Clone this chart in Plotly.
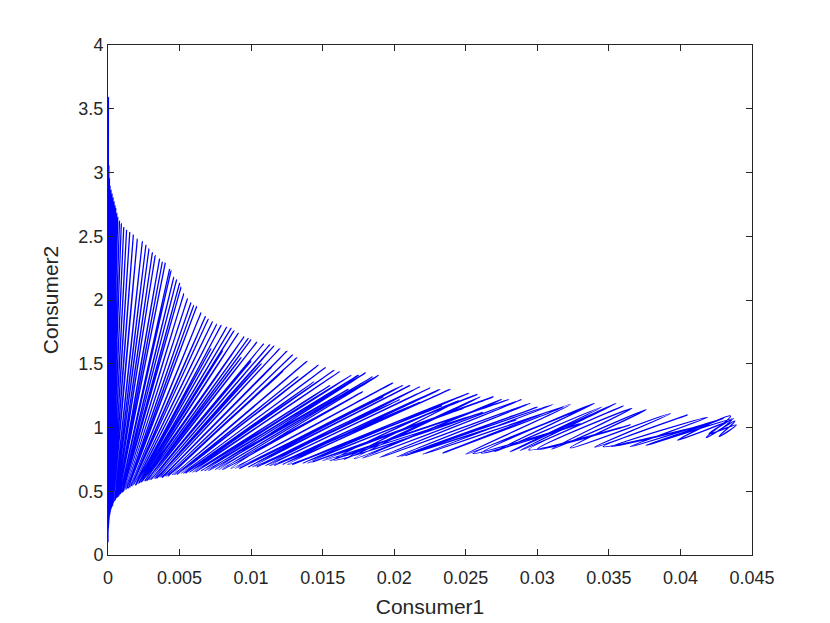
import plotly.graph_objects as go

# Loop turning points, in time order:
# each loop rises from a trough (low point) to a peak (high point).
trough_x = [0.00000, 0.00001, 0.00002, 0.00003, 0.00004, 0.00005, 0.00006, 0.00007, 0.00008, 0.00010,
            0.00012, 0.00014, 0.00016, 0.00018, 0.00021, 0.00024, 0.00028, 0.00032, 0.00036, 0.00040,
            0.00045, 0.00050, 0.00055, 0.00060, 0.00065, 0.00070, 0.00075, 0.00080, 0.00085, 0.00090,
            0.00095, 0.00100, 0.00105, 0.00110, 0.00118, 0.00125, 0.00132, 0.00140, 0.00148, 0.00155,
            0.00162, 0.00170, 0.00180, 0.00190,
            0.00195,
            0.00200, 0.00210, 0.00215,
            0.00220, 0.00230, 0.00235,
            0.00240, 0.00255, 0.00262,
            0.00270, 0.00285, 0.00292,
            0.00300, 0.00320, 0.00330,
            0.00340, 0.00360, 0.00370,
            0.00380, 0.00400, 0.00410,
            0.00420, 0.00450, 0.00465,
            0.00480, 0.00510, 0.00525,
            0.00540, 0.00570, 0.00590,
            0.00610, 0.00650, 0.00675,
            0.00700, 0.00750, 0.00775,
            0.00800, 0.00860, 0.00890,
            0.00920, 0.00980, 0.01010,
            0.01040, 0.01100, 0.01130,
            0.01160, 0.01220, 0.01255,
            0.01290, 0.01360, 0.01395,
            0.01430, 0.01500, 0.01550,
            0.0158, 0.0165, 0.0172, 0.0178, 0.0190, 0.0202,
            0.0205,
            0.0208, 0.0220, 0.0234, 0.0250,
            0.0255,
            0.0261, 0.0270, 0.0281, 0.0288,
            0.0294,
            0.0300, 0.0310, 0.0323, 0.0340,
            0.0346,
            0.0352, 0.0365, 0.0376, 0.0398, 0.0418, 0.0427, 0.0420]
trough_y = [0.10, 0.19, 0.21, 0.22, 0.24, 0.25, 0.27, 0.28, 0.29, 0.31,
            0.32, 0.33, 0.34, 0.35, 0.36, 0.37, 0.38, 0.39, 0.40, 0.41,
            0.42, 0.43, 0.44, 0.45, 0.45, 0.46, 0.47, 0.47, 0.48, 0.48,
            0.49, 0.49, 0.50, 0.50, 0.51, 0.51, 0.52, 0.52, 0.53, 0.53,
            0.54, 0.54, 0.55, 0.55,
            0.55,
            0.56, 0.56, 0.56,
            0.57, 0.57, 0.57,
            0.58, 0.58, 0.58,
            0.58, 0.59, 0.59,
            0.59, 0.60, 0.60,
            0.60, 0.61, 0.61,
            0.61, 0.62, 0.62,
            0.62, 0.63, 0.63,
            0.63, 0.64, 0.64,
            0.64, 0.65, 0.65,
            0.65, 0.66, 0.66,
            0.66, 0.67, 0.67,
            0.67, 0.68, 0.68,
            0.68, 0.69, 0.69,
            0.69, 0.70, 0.70,
            0.70, 0.71, 0.71,
            0.71, 0.72, 0.72,
            0.73, 0.74, 0.74,
            0.745, 0.75, 0.755, 0.76, 0.765, 0.77,
            0.775,
            0.78, 0.79, 0.80, 0.79,
            0.795,
            0.80, 0.81, 0.81, 0.82,
            0.825,
            0.83, 0.83, 0.84, 0.845,
            0.85,
            0.85, 0.85, 0.86, 0.90, 0.92, 0.93, 0.95]
peak_x = [0.00003, 0.00006, 0.00010, 0.00014, 0.00021, 0.00028, 0.00035, 0.00042, 0.00048, 0.00054,
          0.00061, 0.00068, 0.00080, 0.00093, 0.00110, 0.00130, 0.00152, 0.00177, 0.00205, 0.00240,
          0.00265, 0.00286, 0.00310, 0.00330, 0.00360, 0.00380, 0.00400, 0.00430, 0.00440, 0.00460,
          0.00480, 0.00500, 0.00510, 0.00530, 0.00555, 0.00580, 0.00600, 0.00620, 0.00650, 0.00680,
          0.00700, 0.00730, 0.00760, 0.00790,
          0.00720,
          0.00830, 0.00860, 0.00800,
          0.00880, 0.00910, 0.00870,
          0.00950, 0.00980, 0.00930,
          0.01000, 0.01040, 0.01000,
          0.01090, 0.01130, 0.01070,
          0.01160, 0.01200, 0.01140,
          0.01250, 0.01290, 0.01220,
          0.01320, 0.01390, 0.01330,
          0.01470, 0.01520, 0.01440,
          0.01580, 0.01620, 0.01550,
          0.01700, 0.01750, 0.01680,
          0.01800, 0.01850, 0.01780,
          0.01890, 0.01990, 0.01920,
          0.02060, 0.02110, 0.02040,
          0.02180, 0.02250, 0.02180,
          0.02320, 0.02390, 0.02330,
          0.02520, 0.02580, 0.02480,
          0.02690, 0.02800, 0.02620,
          0.0245, 0.0260, 0.0275, 0.0289, 0.0295, 0.0300,
          0.0285,
          0.0311, 0.0318, 0.0323, 0.0330,
          0.0330,
          0.0340, 0.0345, 0.0355, 0.0360,
          0.0365,
          0.0366, 0.0376, 0.0393, 0.0405,
          0.0410,
          0.0419, 0.0430, 0.0437, 0.0435, 0.0438, 0.0439, 0.0436]
peak_y = [3.59, 3.05, 2.95, 2.89, 2.86, 2.83, 2.80, 2.77, 2.74, 2.72,
          2.68, 2.65, 2.62, 2.60, 2.57, 2.55, 2.53, 2.51, 2.48, 2.46,
          2.43, 2.40, 2.37, 2.35, 2.32, 2.30, 2.29, 2.24, 2.23, 2.18,
          2.16, 2.13, 2.10, 2.05, 2.01, 1.98, 1.96, 1.95, 1.90, 1.87,
          1.85, 1.83, 1.81, 1.80,
          1.62,
          1.79, 1.78, 1.60,
          1.76, 1.74, 1.58,
          1.71, 1.70, 1.55,
          1.69, 1.67, 1.52,
          1.66, 1.65, 1.50,
          1.64, 1.62, 1.47,
          1.60, 1.57, 1.44,
          1.55, 1.52, 1.40,
          1.49, 1.47, 1.36,
          1.45, 1.44, 1.33,
          1.41, 1.41, 1.30,
          1.43, 1.40, 1.28,
          1.41, 1.35, 1.24,
          1.33, 1.33, 1.22,
          1.32, 1.31, 1.20,
          1.30, 1.30, 1.17,
          1.27, 1.26, 1.15,
          1.24, 1.22, 1.12,
          1.21, 1.24, 1.22, 1.22, 1.19, 1.16,
          1.06,
          1.18, 1.16, 1.18, 1.14,
          1.03,
          1.19, 1.16, 1.19, 1.17,
          1.02,
          1.15, 1.14, 1.11, 1.10,
          1.00,
          1.08, 1.07, 1.07, 1.09, 1.05, 1.02, 1.06]
end_point = (0.0430, 1.00)

assert len(trough_x) == len(trough_y) == len(peak_x) == len(peak_y), (
    len(trough_x), len(trough_y), len(peak_x), len(peak_y))

x_ticks = [0, 0.005, 0.01, 0.015, 0.02, 0.025, 0.03, 0.035, 0.04, 0.045]
x_tick_text = ["0", "0.005", "0.01", "0.015", "0.02", "0.025", "0.03", "0.035", "0.04", "0.045"]
y_ticks = [0, 0.5, 1, 1.5, 2, 2.5, 3, 3.5, 4]
y_tick_text = ["0", "0.5", "1", "1.5", "2", "2.5", "3", "3.5", "4"]

# assemble the path: trough, peak, trough, peak, ...
path_x, path_y = [], []
for tx, ty, px, py in zip(trough_x, trough_y, peak_x, peak_y):
    path_x += [tx, px]
    path_y += [ty, py]
path_x.append(end_point[0])
path_y.append(end_point[1])

fig = go.Figure()
fig.add_trace(go.Scatter(x=path_x, y=path_y, mode="lines",
                         line=dict(color="#0000FF", width=1.3, shape="spline", smoothing=1.3),
                         showlegend=False, hoverinfo="skip"))

font_family = "Liberation Sans, Arial, sans-serif"
axis_common = dict(showline=True, linecolor="#262626", linewidth=1, mirror="ticks",
                   ticks="inside", ticklen=6, tickcolor="#262626", tickwidth=1,
                   showgrid=False, zeroline=False,
                   tickfont=dict(family=font_family, size=18, color="#262626"),
                   title_font=dict(family=font_family, size=21, color="#262626"))

fig.update_layout(
    width=830, height=623,
    margin=dict(l=100, r=86, t=37, b=76),
    paper_bgcolor="white", plot_bgcolor="white",
    xaxis=dict(range=[0, 0.045], tickvals=x_ticks, ticktext=x_tick_text,
               ticklabelstandoff=6,
               title=dict(text="Consumer1", standoff=12), **axis_common),
    yaxis=dict(range=[0, 4], tickvals=y_ticks, ticktext=y_tick_text,
               title=dict(text="Consumer2", standoff=14), **axis_common),
)

fig.write_html("out.html")
